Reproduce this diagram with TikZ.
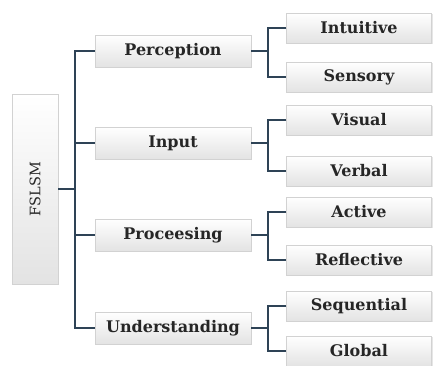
\documentclass[tikz,border=0pt]{standalone}
\usepackage{fontspec}
\setmainfont{DejaVu Serif}
\usepackage{tikz}
\usetikzlibrary{shadows}

\definecolor{linkblue}{HTML}{2E4356}
\tikzset{
	box/.style={draw=gray!35, top color=white, bottom color=gray!22, drop shadow={opacity=0.2, shadow xshift=1.2pt, shadow yshift=-1.2pt}, text=black!85, font=\bfseries\fontsize{16}{18}\selectfont, inner sep=0pt},
	midbox/.style={box, minimum width=156pt, minimum height=32pt},
	leafbox/.style={box, minimum width=145pt, minimum height=30pt},
	link/.style={draw=linkblue, line width=2.4pt}
}

\begin{document}
\begin{tikzpicture}[x=1pt,y=-1pt]
	\useasboundingbox (0,0) rectangle (434,365);
	\node (fslsm) [box, minimum width=46pt, minimum height=190pt] at (35,189) {};
	\node [rotate=90, font=\fontsize{14.5}{16}\selectfont, text=black!85] at (fslsm.center) {FSLSM};
	\node (per) [midbox] at (173,51) {Perception};
	\node (inp) [midbox] at (173,143) {Input};
	\node (pro) [midbox] at (173,235) {Proceesing};
	\node (und) [midbox] at (173,328) {Understanding};
	\node (int) [leafbox] at (359,28) {Intuitive};
	\node (sen) [leafbox] at (359,77) {Sensory};
	\node (vis) [leafbox] at (359,120) {Visual};
	\node (ver) [leafbox] at (359,171) {Verbal};
	\node (act) [leafbox] at (359,212) {Active};
	\node (ref) [leafbox] at (359,260) {Reflective};
	\node (seq) [leafbox] at (359,306) {Sequential};
	\node (glo) [leafbox] at (359,351) {Global};
	\coordinate (t) at (75,189);
	\coordinate (b1) at (268,51);
	\coordinate (b2) at (268,143);
	\coordinate (b3) at (268,235);
	\coordinate (b4) at (268,328);
	\draw[link] (fslsm.east) -- (t);
	\draw[link] (per.west) -| (t) |- (und.west);
	\draw[link] (inp.west) -- (inp.west -| t);
	\draw[link] (pro.west) -- (pro.west -| t);
	\draw[link] (per.east) -- (b1);
	\draw[link] (int.west) -| (b1) |- (sen.west);
	\draw[link] (inp.east) -- (b2);
	\draw[link] (vis.west) -| (b2) |- (ver.west);
	\draw[link] (pro.east) -- (b3);
	\draw[link] (act.west) -| (b3) |- (ref.west);
	\draw[link] (und.east) -- (b4);
	\draw[link] (seq.west) -| (b4) |- (glo.west);
\end{tikzpicture}
\end{document}
